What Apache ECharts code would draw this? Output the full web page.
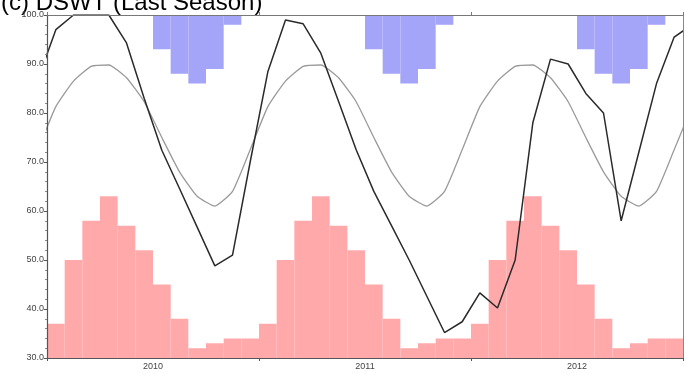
<!DOCTYPE html>
<html>
<head>
<meta charset="utf-8">
<script src="https://cdn.jsdelivr.net/npm/echarts@6/dist/echarts.min.js"></script>
<style>
  html, body { margin: 0; padding: 0; background: #fff; }
  #chart { width: 684px; height: 374px; }
</style>
</head>
<body>
<div id="chart"></div>
<script>
// ---- data ----
const years = ['2010', '2011', '2012'];
const monthNames = ['Jan','Feb','Mar','Apr','May','Jun','Jul','Aug','Sep','Oct','Nov','Dec'];

// pink monthly bars (rise from the bottom), Jan 2010 .. Dec 2012
const pinkBars = [
  37, 50, 58, 63, 57, 52, 45, 38, 32, 33, 34, 34,
  37, 50, 58, 63, 57, 52, 45, 38, 32, 33, 34, 34,
  37, 50, 58, 63, 57, 52, 45, 38, 32, 33, 34, 34
];

// blue monthly bars (hang from the top, 100, down to this level), Jan 2010 .. Dec 2012
const blueBars = [
  null, null, null, null, null, null, 93, 88, 86, 89, 98, null,
  null, null, null, null, null, null, 93, 88, 86, 89, 98, null,
  null, null, null, null, null, null, 93, 88, 86, 89, 98, null
];

// grey line, Dec 2009 .. Jan 2013 (monthly, at month centres)
const greyLine = [
  72.5,
  81.3, 86.5, 89.5, 89.8, 87.2, 82.3, 75, 68, 63, 61, 64, 72.5,
  81.3, 86.5, 89.5, 89.8, 87.2, 82.3, 75, 68, 63, 61, 64, 72.5,
  81.3, 86.5, 89.5, 89.8, 87.2, 82.3, 75, 68, 63, 61, 64, 72.5,
  81.3
];

// black line, Dec 2009 .. Jan 2013
const blackLine = [
  87,
  97, 100, 100, 100, 94.3, 83, 72.4, 64.6, 56.7, 48.8, 51, 70,
  88.4, 99, 98.2, 92.2, 82.4, 72.5, 64, 57, 50, 42.6, 35.2, 37.4,
  43.3, 40.2, 50, 78, 91, 90, 84, 80, 58, 72, 86, 95.5,
  98
];

const yMin = 30, yMax = 100, yStep = 10;

// ---- build ----
const monthCats = [];
years.forEach(y => monthNames.forEach(m => monthCats.push(m + ' ' + y)));

const toPoints = arr => arr.map((v, k) => [k - 0.5, v]);
const blueBase = blueBars.map(v => v == null ? null : v);
const blueTop = blueBars.map(v => v == null ? null : yMax - v);

const axisColor = '#555';
const pink = '#FFA9AA';
const blue = '#A4A4F8';
const labelStyle = { color: '#444', fontSize: 9, fontFamily: 'Liberation Sans, Arial, sans-serif' };

const chart = echarts.init(document.getElementById('chart'), null, { renderer: 'canvas' });
chart.setOption({
  animation: false,
  backgroundColor: '#fff',
  title: {
    text: '(c) DSWT (Last Season)',
    left: 1,
    top: -9,
    padding: 0,
    textStyle: { color: '#000', fontSize: 24, fontWeight: 'normal', fontFamily: 'Liberation Sans, Arial, sans-serif' }
  },
  grid: { left: 47, right: 1, top: 15, bottom: 16, containLabel: false },
  xAxis: [
    {
      type: 'category', data: years, position: 'bottom', boundaryGap: true, z: 10,
      axisLine: { show: true, lineStyle: { color: axisColor, width: 1.2 } },
      axisTick: { show: true, length: 3, lineStyle: { color: axisColor } },
      axisLabel: Object.assign({ margin: 4 }, labelStyle),
      splitLine: { show: false }
    },
    {
      type: 'category', data: monthCats, boundaryGap: true, show: false
    },
    {
      type: 'value', min: 0, max: 36, show: false
    },
    {
      type: 'category', data: years, position: 'top', boundaryGap: true, z: 10,
      axisLine: { show: true, lineStyle: { color: '#777', width: 1 } },
      axisTick: { show: true, length: 3, lineStyle: { color: '#777' } },
      axisLabel: { show: false },
      splitLine: { show: false }
    }
  ],
  yAxis: [
    {
      type: 'value', min: yMin, max: yMax, interval: yStep, position: 'left', z: 10,
      axisLine: { show: true, lineStyle: { color: axisColor, width: 1.2 } },
      axisTick: { show: true, length: 3, lineStyle: { color: axisColor } },
      minorTick: { show: true, splitNumber: 5, length: 2, lineStyle: { color: '#888' } },
      axisLabel: Object.assign({ margin: 3, formatter: v => v.toFixed(1) }, labelStyle),
      splitLine: { show: false }
    },
    {
      type: 'value', min: yMin, max: yMax, interval: yStep, position: 'right', z: 10,
      axisLine: { show: true, lineStyle: { color: '#888', width: 1 } },
      axisTick: { show: false },
      axisLabel: { show: false },
      splitLine: { show: false }
    }
  ],
  series: [
    {
      type: 'bar', xAxisIndex: 1, yAxisIndex: 0, data: pinkBars,
      barWidth: '100%', barGap: '-100%', clip: true, z: 1,
      itemStyle: { color: pink, borderColor: pink, borderWidth: 1.5 }, silent: true
    },
    {
      type: 'bar', xAxisIndex: 1, yAxisIndex: 0, data: blueBase, stack: 'blue',
      barWidth: '100%', barGap: '-100%', clip: true, z: 1,
      itemStyle: { color: 'rgba(0,0,0,0)' }, silent: true
    },
    {
      type: 'bar', xAxisIndex: 1, yAxisIndex: 0, data: blueTop, stack: 'blue',
      barWidth: '100%', barGap: '-100%', clip: true, z: 1,
      itemStyle: { color: blue, borderColor: blue, borderWidth: 1.5 }, silent: true
    },
    {
      type: 'line', xAxisIndex: 2, yAxisIndex: 0, data: toPoints(greyLine),
      showSymbol: false, clip: true, z: 3, smooth: 0.15,
      lineStyle: { color: '#9a9a9a', width: 1.3 }
    },
    {
      type: 'line', xAxisIndex: 2, yAxisIndex: 0, data: toPoints(blackLine),
      showSymbol: false, clip: true, z: 4,
      lineStyle: { color: '#2a2a2a', width: 1.5 }
    }
  ]
});
</script>
</body>
</html>
